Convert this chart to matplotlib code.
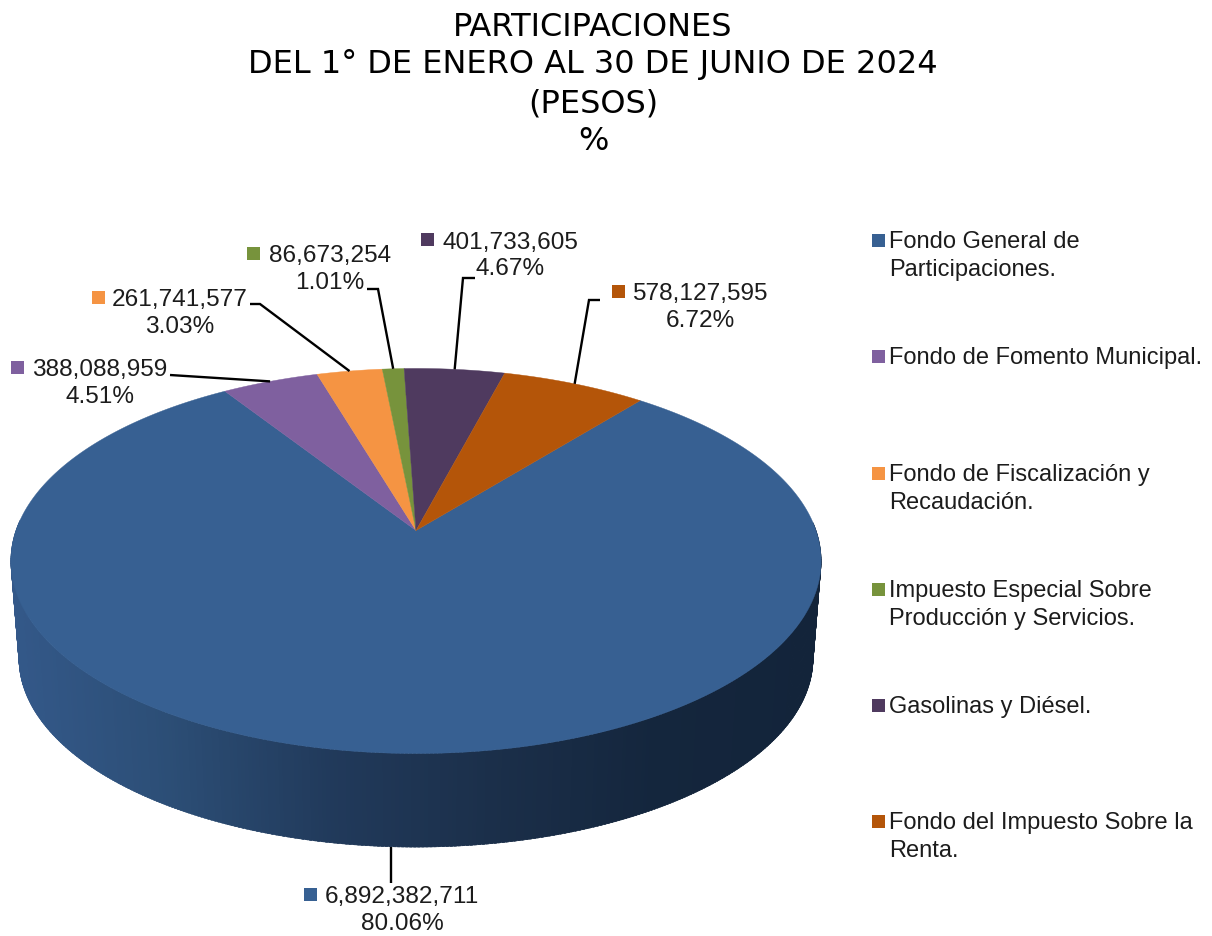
import numpy as np
import matplotlib
matplotlib.use("Agg")
import matplotlib.pyplot as plt
from matplotlib.colors import LinearSegmentedColormap
from matplotlib.patches import Polygon, Rectangle

title_lines = ["PARTICIPACIONES", "DEL 1° DE ENERO AL 30 DE JUNIO DE 2024", "(PESOS)", "%"]
legend_labels = [
    "Fondo General de\nParticipaciones.",
    "Fondo de Fomento Municipal.",
    "Fondo de Fiscalización y\nRecaudación.",
    "Impuesto Especial Sobre\nProducción y Servicios.",
    "Gasolinas y Diésel.",
    "Fondo del Impuesto Sobre la\nRenta.",
]
values = [6892382711, 388088959, 261741577, 86673254, 401733605, 578127595]
percent_labels = ["80.06%", "4.51%", "3.03%", "1.01%", "4.67%", "6.72%"]
colors = ["#376092", "#7F609F", "#F59443", "#77933C", "#4F3A5F", "#B45509"]

# the axes work in picture pixels, y going down
W, H = 1212, 937
CX, CY = 416, 531.5
A, B, K = 400, 187.7, 0.1584   # perspective of the pie top
DEPTH, SHRINK = 98, 0.98       # lower rim of the pie
START = 39

TEXT = "#1c1c1c"
FS_LABEL = 17.6
FS_LEGEND = 17.0


def rim(angle, lower=False):
    # angle in degrees, clockwise from the top of the pie
    t = np.radians(angle)
    u, v = np.sin(t), -np.cos(t)
    s = SHRINK if lower else 1
    y0 = CY + DEPTH if lower else CY
    return CX + s * A * u / (1 - K * v), y0 + s * B * v / (1 - K * v)


fig = plt.figure(figsize=(W / 100, H / 100), dpi=100)
ax = fig.add_axes([0, 0, 1, 1])
ax.set_xlim(0, W)
ax.set_ylim(H, 0)
ax.axis("off")

plt.rcParams["font.family"] = ["Liberation Sans", "DejaVu Sans"]

shares = np.array(values) / sum(values) * 360
starts = START + np.concatenate([[0], np.cumsum(shares)[:-1]])
ends = starts + shares
mids = (starts + ends) / 2

# side wall of the big slice, shaded from left to right
side = LinearSegmentedColormap.from_list(
    "side", ["#34598A", "#2C4E76", "#213A5B", "#1B2F4A", "#14263D", "#13243A"])
steps = np.arange(starts[0], ends[0], 0.5)
for a0 in steps:
    a1 = min(a0 + 0.8, ends[0])
    if -np.cos(np.radians(a0)) < -0.05:
        continue
    x0, y0 = rim(a0)
    x1, y1 = rim(a1)
    x2, y2 = rim(a1, lower=True)
    x3, y3 = rim(a0, lower=True)
    c = side((x0 + x1) / 2 / 820)
    ax.add_patch(Polygon([(x0, y0), (x1, y1), (x2, y2), (x3, y3)], fc=c, ec=c, lw=0.4))

# top of the pie
for a0, a1, col in zip(starts, ends, colors):
    angs = np.linspace(a0, a1, 300)
    xs, ys = rim(angs)
    pts = [(CX, CY)] + list(zip(xs, ys))
    ax.add_patch(Polygon(pts, fc=col, ec=col, lw=0.3, zorder=3))

# data labels: marker, number, percent, leader line
label_x = [402, 100, 180, 330, 510, 700]
label_y = [896, 369, 299, 255, 241, 293]
marker_x = [310, 17, 98, 253, 427, 618]
elbows = [
    [],
    [(170, 376)],
    [(250, 305), (260, 305)],
    [(367, 290), (378, 290)],
    [(475, 279), (463, 279)],
    [(600, 301), (589, 301)],
]
for i, val in enumerate(values):
    ax.text(label_x[i], label_y[i] + 1.5, f"{val:,}", ha="center", va="center",
            fontsize=FS_LABEL, color=TEXT, zorder=5)
    ax.text(label_x[i], label_y[i] + 28.5, percent_labels[i], ha="center", va="center",
            fontsize=FS_LABEL, color=TEXT, zorder=5)
    ax.add_patch(Rectangle((marker_x[i] - 6.5, label_y[i] - 7.5), 13, 13, fc=colors[i], ec="none"))
    ex, ey = rim(mids[i], lower=(i == 0))
    ex, ey = float(ex), float(ey)
    # big slice has a straight drop to its label
    pts = ([(ex, 884)] if i == 0 else elbows[i]) + [(ex, ey)]
    ax.plot([p[0] for p in pts], [p[1] for p in pts], color="black", lw=1.7, zorder=4,
            solid_capstyle="butt", solid_joinstyle="miter")

# legend
legend_y = [241, 357, 474, 590, 706, 822]
for lab, y, col in zip(legend_labels, legend_y, colors):
    ax.add_patch(Rectangle((871.5, y - 6.5), 13, 13, fc=col, ec="none"))
    for j, line in enumerate(lab.split("\n")):
        ax.text(889, y + 1.5 + j * 27.5, line, ha="left", va="center", fontsize=FS_LEGEND, color=TEXT)

# title
title_y = [28, 65, 104, 141]
for line, y in zip(title_lines, title_y):
    ax.text(593, y, line, ha="center", va="center", fontsize=23, color="black",
            family="DejaVu Sans")

fig.savefig("out.png", dpi=100, facecolor="white")
